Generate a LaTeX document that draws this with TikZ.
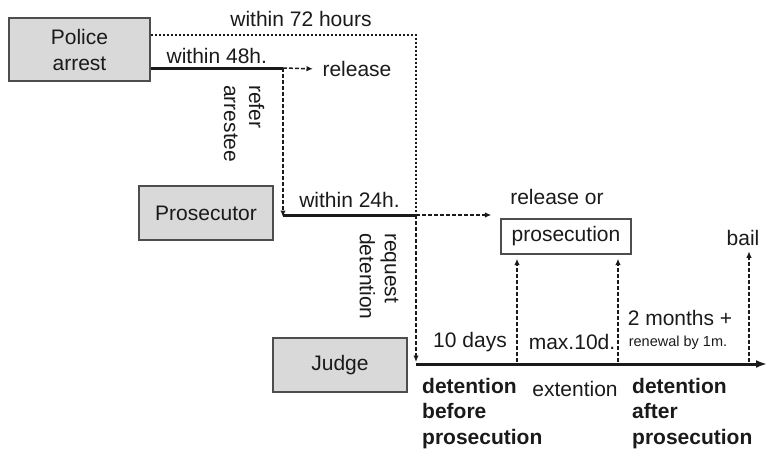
\documentclass[tikz,border=0pt]{standalone}
\usepackage{fontspec}
\setmainfont{Liberation Sans}
\usetikzlibrary{arrows.meta}
\definecolor{boxgray}{HTML}{D9D9D9}
\definecolor{linegray}{HTML}{4D4D4D}
\definecolor{textblack}{HTML}{1A1A1A}

\begin{document}
\begin{tikzpicture}[x=1pt, y=-1pt, >={Latex[length=6.5pt,width=5.5pt]},
  font=\fontsize{21}{25}\selectfont, text=textblack,
  actor/.style={draw=linegray, fill=boxgray, line width=1.3pt,
    minimum width=134pt, minimum height=54pt, align=center},
  outcome/.style={draw=linegray, fill=white, line width=1.3pt,
    minimum width=130pt, minimum height=35pt},
  dasharrow/.style={->, textblack, line width=1.5pt, dash pattern=on 4pt off 2pt},
  dotline/.style={textblack, line width=2.2pt, dash pattern=on 2pt off 2pt},
  thickline/.style={textblack, line width=3pt},
  smalltext/.style={font=\fontsize{14.5}{17}\selectfont},
  sidetext/.style={rotate=-90, anchor=west, align=left, inner sep=0pt},
  phase/.style={anchor=north west, align=left, inner sep=0pt, font=\fontsize{21}{25.5}\selectfont\bfseries}]
  \useasboundingbox (0,0) rectangle (768,451);

  % actors
  \node[actor, minimum width=141pt, minimum height=63pt] (police) at (79.5,49.5) {Police\\[1pt]arrest};
  \node[actor] (prosecutor) at (206,213) {Prosecutor};
  \node[actor] (judge) at (340,365) {Judge};
  \node[outcome] (prosec) at (566,236.5) {prosecution};
  \node (relor) at (557,197) {release or};
  \node (bail) at (743,238) {bail};
  \node[anchor=west] (release) at (319,69) {release};

  % corners of the time limits
  \coordinate (c72) at (416,35);
  \coordinate (c48) at (283,68);
  \coordinate (c24) at (416,215);
  \coordinate (tstart) at (416,364);
  \coordinate (tend) at (767,364);
  \coordinate (t1) at (517,364);
  \coordinate (t2) at (618,364);
  \coordinate (t3) at (749,364);

  % police -> prosecutor
  \draw[dotline] (police.east |- c72) -- (c72) -- (c24);
  \node (h72) at (301,19) {within 72 hours};
  \draw[thickline] (police.east |- c48) -- (c48) node[midway, above=-1pt] (h48) {within 48h.};
  \draw[dasharrow, shorten >=6pt] (c48) -- (release.west);
  \draw[dasharrow] (c48) -- ([yshift=-2pt]c48 |- c24);
  \node[sidetext] (refer) at (244,85) {refer\\arrestee};

  % prosecutor -> judge
  \draw[thickline] (c48 |- c24) -- (c24) node[midway, above=3pt] (h24) {within 24h.};
  \draw[dasharrow] (c24) -- ([xshift=-9pt]c24 -| prosec.west);
  \draw[dasharrow, shorten >=2pt] (c24) -- (tstart);
  \node[sidetext] (request) at (379,233) {request\\detention};

  % time line
  \draw[thickline, -{Latex[length=11pt,width=8pt]}] (tstart) -- (tend);
  \draw[dasharrow, shorten <=2pt, shorten >=4pt] (t1) -- (t1 |- prosec.south);
  \draw[dasharrow, shorten <=2pt, shorten >=4pt] (t2) -- (t2 |- prosec.south);
  \draw[dasharrow, shorten <=2pt, shorten >=2pt] (t3) -- (t3 |- bail.south);
  \node (days) at (470,342) {10 days};
  \node (maxd) at (572,342) {max.10d.};
  \node (months) at (680,318) {2 months +};
  \node[smalltext] (renew) at (678,343) {renewal by 1m.};

  % phases
  \node[phase] (before) at (422,378) {detention\\before\\prosecution};
  \node (ext) at (575,389) {extention};
  \node[phase] (after) at (632,378) {detention\\after\\prosecution};
\end{tikzpicture}
\end{document}
